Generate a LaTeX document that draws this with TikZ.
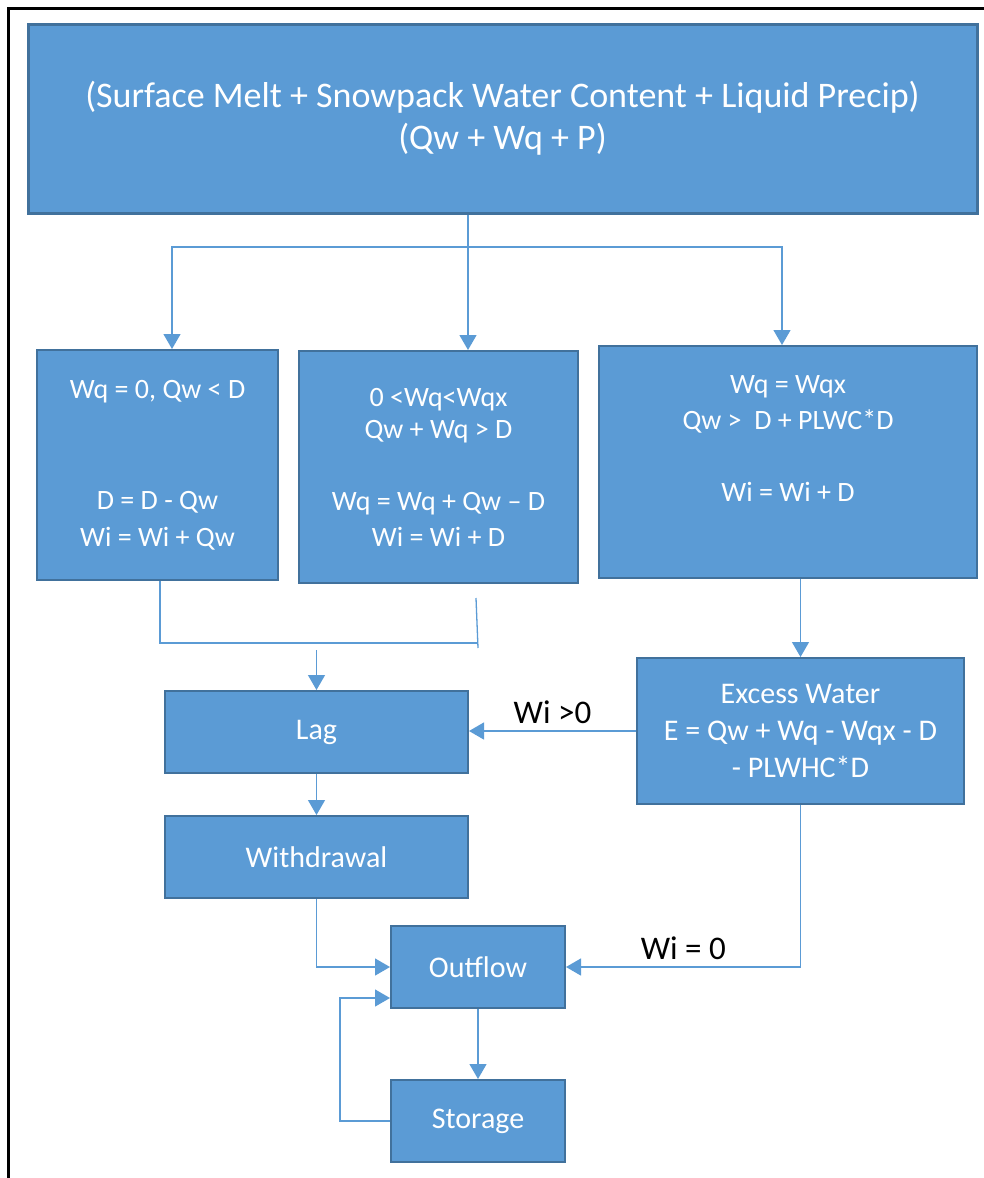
\documentclass[tikz,border=0pt]{standalone}
\usepackage{fontspec}
\setmainfont{Carlito}
\usetikzlibrary{arrows.meta}
\definecolor{boxblue}{RGB}{91,155,213}
\definecolor{edgeblue}{RGB}{65,113,156}
\begin{document}
\begin{tikzpicture}[x=1pt,y=-1pt,
  blk/.style={draw=edgeblue,line width=2pt,fill=boxblue,text=white,align=center,inner sep=0pt,font=\fontsize{28}{36}\selectfont},
  step box/.style={blk,minimum height=82pt,font=\fontsize{30}{36}\selectfont},
  wire/.style={draw=boxblue,line width=1.3pt},
  link/.style={wire,-{Triangle[width=17pt,length=15pt]}},
  cond/.style={text=black,font=\fontsize{33}{38}\selectfont}]
  \useasboundingbox (0,0) rectangle (984,1178);
  \draw[line width=3pt] (8,1178) -- (8,8) -- (984,8);
  % boxes
  \node[blk,line width=3pt,minimum width=949pt,minimum height=189pt,font=\fontsize{36}{42}\selectfont] (melt) at (502.5,118.5)
    {(Surface Melt + Snowpack Water Content + Liquid Precip)\\(Qw + Wq + P)};
  \node[blk,minimum width=241pt,minimum height=230pt,font=\fontsize{28}{37}\selectfont] (caseA) at (157.5,465)
    {Wq = 0, Qw < D\\ \strut\\ \strut\\D = D - Qw\\Wi = Wi + Qw};
  \node[blk,minimum width=279pt,minimum height=232pt] (caseB) at (438.5,467)
    {0 <Wq<Wqx\\[-4pt]Qw + Wq > D\\ \strut\\Wq = Wq + Qw -- D\\Wi = Wi + D};
  \node[blk,minimum width=378pt,minimum height=232pt] (caseC) at (788,462)
    {Wq = Wqx\\Qw >\ \ D + PLWC*D\\ \strut\\Wi = Wi + D\\ \strut};
  \node[blk,minimum width=327pt,minimum height=146pt,font=\fontsize{30}{37}\selectfont] (excess) at (800.5,731)
    {Excess Water\\E = Qw + Wq - Wqx - D\\- PLWHC*D};
  \node[step box,minimum width=303pt] (lag) at (316.5,732) {Lag};
  \node[step box,minimum width=303pt] (wdraw) at (316.5,857) {Withdrawal};
  \node[step box,minimum width=174pt] (outflow) at (478,967) {Outflow};
  \node[step box,minimum width=174pt] (storage) at (478,1121) {Storage};
  % connectors
  \coordinate (fork) at (468,247);
  \coordinate (mergeL) at (160,643);
  \coordinate (mergeR) at (478,643);
  \coordinate (loop) at (340,1121);
  \draw[wire] (melt.south -| fork) -- (fork);
  \draw[link] (fork) -| ([xshift=14.5pt]caseA.north);
  \draw[link] (fork) -- (fork |- caseB.north);
  \draw[link] (fork) -| ([xshift=-6pt]caseC.north);
  \draw[wire] ([xshift=2.5pt]caseA.south) -- (mergeL) -- (mergeR);
  \draw[wire] ([xshift=37.5pt,yshift=-14pt]caseB.south) -- ([yshift=-5pt]mergeR);
  \draw[link] ([yshift=-7pt]lag.north |- mergeL) -- (lag.north);
  \draw[link] (excess.north |- caseC.south) -- (excess.north);
  \draw[link] (excess.west) -- (lag.east |- excess.west) node[cond,midway,above=3pt] {Wi >0};
  \draw[link] (excess.south) |- (outflow.east) node[cond,pos=0.75,above=3pt] {Wi = 0};
  \draw[link] (lag.south) -- (wdraw.north);
  \draw[link] (wdraw.south) |- (outflow.west);
  \draw[link] (outflow.south) -- (storage.north);
  \draw[link] (storage.west) -- (loop) |- ([yshift=-31pt]outflow.west);
\end{tikzpicture}
\end{document}
